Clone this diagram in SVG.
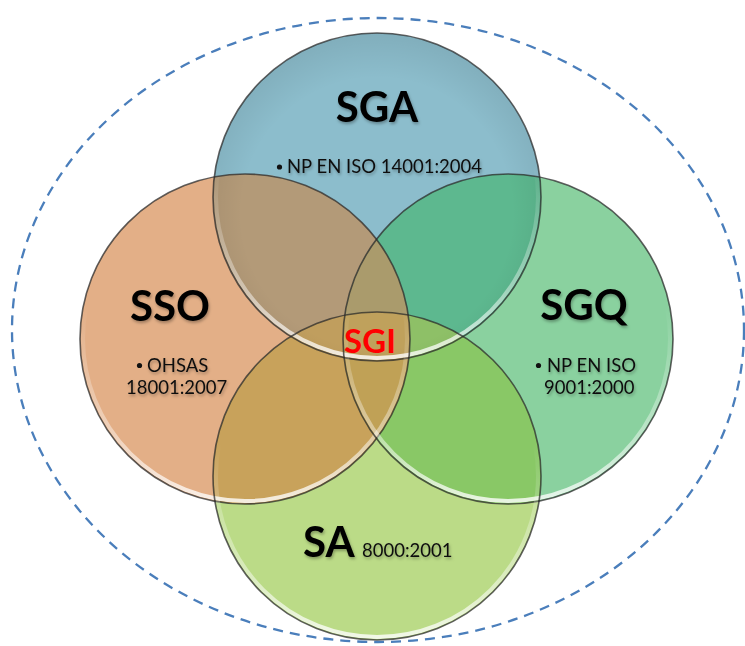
<svg xmlns="http://www.w3.org/2000/svg" width="745" height="646" viewBox="0 0 745 646">
  <style>
    .ring { fill: none; stroke: #2b2b2b; stroke-opacity: 0.75; stroke-width: 1.6; }
    .rim { fill: none; stroke: url(#rimGlow); stroke-width: 4; }
    .title { font-family: Lato, "Open Sans", "Liberation Sans", sans-serif; font-weight: 700; font-size: 42px; fill: #000; }
    .item { font-family: Lato, "Open Sans", "Liberation Sans", sans-serif; font-size: 18.5px; fill: #111; }
    .core { font-family: Lato, "Open Sans", "Liberation Sans", sans-serif; font-weight: 700; font-size: 33px; fill: #ff0000; }
    .shadowed { filter: url(#softShadow); }
  </style>
  <defs>
    <linearGradient id="rimGlow" x1="0" y1="0" x2="0" y2="1">
      <stop offset="0.4" stop-color="#fff" stop-opacity="0"/>
      <stop offset="0.8" stop-color="#fff" stop-opacity="0.45"/>
      <stop offset="1" stop-color="#fff" stop-opacity="0.8"/>
    </linearGradient>
    <radialGradient id="topShade" cx="0.5" cy="0.55" r="0.55">
      <stop offset="0.75" stop-color="#000" stop-opacity="0"/>
      <stop offset="1" stop-color="#000" stop-opacity="0.08"/>
    </radialGradient>
    <filter id="softShadow" x="-10%" y="-20%" width="130%" height="150%">
      <feDropShadow dx="1" dy="2" stdDeviation="1.4" flood-color="#000" flood-opacity="0.3"/>
    </filter>
    <clipPath id="clipA"><circle cx="377" cy="197" r="164"/></clipPath>
    <clipPath id="clipO"><circle cx="245" cy="339" r="165"/></clipPath>
    <clipPath id="clipQ"><circle cx="508" cy="339" r="165"/></clipPath>
    <clipPath id="clipS"><circle cx="377" cy="476" r="164"/></clipPath>
  </defs>

  <!-- outer boundary -->
  <g id="boundary">
    <ellipse cx="378" cy="330" rx="366" ry="312" fill="none" stroke="#4a7ebb" stroke-width="2.3" stroke-dasharray="10 7"/>
  </g>

  <!-- base discs -->
  <g id="discs">
    <circle cx="377" cy="197" r="164" fill="#8cbdcc"/>
    <circle cx="245" cy="339" r="165" fill="#e3af87"/>
    <circle cx="508" cy="339" r="165" fill="#8ad19f"/>
    <circle cx="377" cy="476" r="164" fill="#bbdb87"/>
  </g>

  <!-- overlap regions -->
  <g id="overlaps">
    <g clip-path="url(#clipA)"><circle cx="245" cy="339" r="165" fill="#b39a78"/></g>
    <g clip-path="url(#clipA)"><circle cx="508" cy="339" r="165" fill="#5db88f"/></g>
    <g clip-path="url(#clipO)"><circle cx="377" cy="476" r="164" fill="#c8a25b"/></g>
    <g clip-path="url(#clipQ)"><circle cx="377" cy="476" r="164" fill="#89c866"/></g>
    <!-- triple regions -->
    <g clip-path="url(#clipA)"><g clip-path="url(#clipO)"><circle cx="508" cy="339" r="165" fill="#aa9b6c"/></g></g>
    <g clip-path="url(#clipA)"><g clip-path="url(#clipO)"><circle cx="377" cy="476" r="164" fill="#c09e5e"/></g></g>
    <g clip-path="url(#clipA)"><g clip-path="url(#clipQ)"><circle cx="377" cy="476" r="164" fill="#8ec067"/></g></g>
    <g clip-path="url(#clipO)"><g clip-path="url(#clipQ)"><circle cx="377" cy="476" r="164" fill="#c0a156"/></g></g>
    <!-- all four -->
    <g clip-path="url(#clipA)"><g clip-path="url(#clipO)"><g clip-path="url(#clipQ)"><circle cx="377" cy="476" r="164" fill="#bfa15c"/></g></g></g>
  </g>

  <!-- SGA -->
  <g id="node-sga">
    <circle cx="377" cy="197" r="164" fill="url(#topShade)"/>
    <circle class="rim" cx="377" cy="197" r="161"/>
    <circle class="ring" cx="377" cy="197" r="164"/>
    <text class="title shadowed" x="377" y="122" text-anchor="middle">SGA</text>
    <circle cx="279.5" cy="167" r="2.6" fill="#111"/>
    <text class="item shadowed" x="287" y="173">NP EN ISO 14001:2004</text>
  </g>

  <!-- SSO -->
  <g id="node-sso">
    <circle class="rim" cx="245" cy="339" r="162"/>
    <circle class="ring" cx="245" cy="339" r="165"/>
    <text class="title shadowed" x="170" y="321" text-anchor="middle">SSO</text>
    <circle cx="139.5" cy="365.5" r="2.6" fill="#111"/>
    <text class="item shadowed" x="147" y="372">OHSAS</text>
    <text class="item shadowed" x="126" y="394">18001:2007</text>
  </g>

  <!-- SGQ -->
  <g id="node-sgq">
    <circle class="rim" cx="508" cy="339" r="162"/>
    <circle class="ring" cx="508" cy="339" r="165"/>
    <text class="title shadowed" x="584" y="320" text-anchor="middle">SGQ</text>
    <circle cx="538.5" cy="365.5" r="2.6" fill="#111"/>
    <text class="item shadowed" x="547" y="372">NP EN ISO</text>
    <text class="item shadowed" x="544" y="394">9001:2000</text>
  </g>

  <!-- SA -->
  <g id="node-sa">
    <circle class="rim" cx="377" cy="476" r="161"/>
    <circle class="ring" cx="377" cy="476" r="164"/>
    <text class="title shadowed" x="303" y="557">SA</text>
    <text class="item shadowed" x="362" y="557">8000:2001</text>
  </g>

  <!-- centre label -->
  <g id="node-sgi">
    <text class="core" x="370" y="353" text-anchor="middle">SGI</text>
  </g>
</svg>
